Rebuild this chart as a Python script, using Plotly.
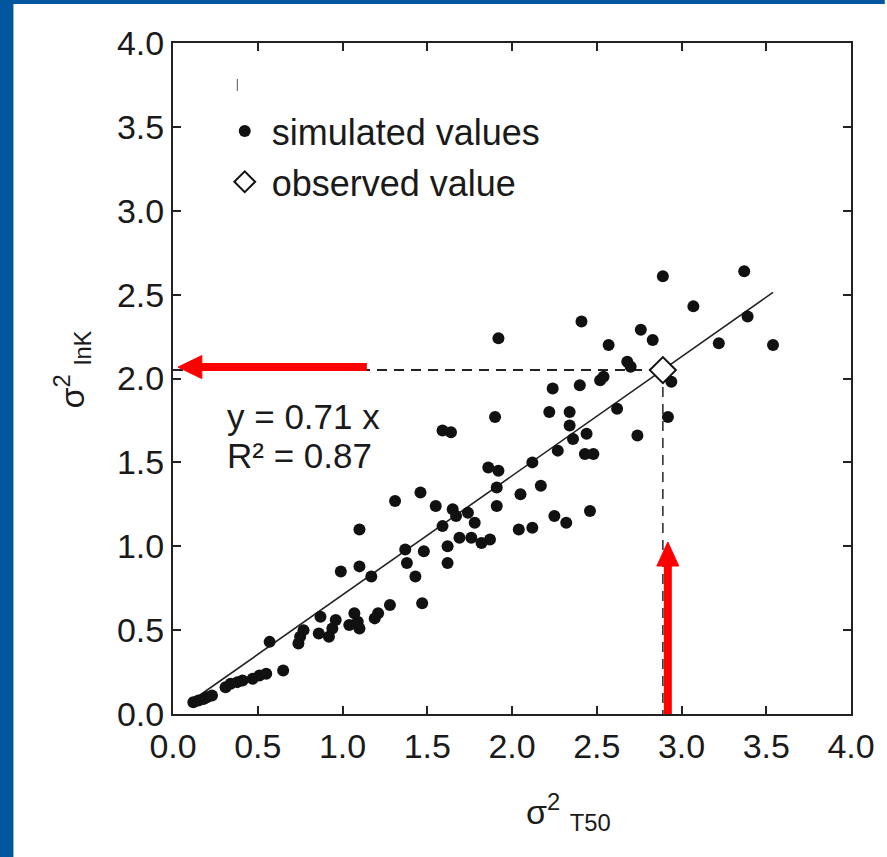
import plotly.graph_objects as go

# ---------------- data ----------------
sim_x = [0.12, 0.15, 0.18, 0.20, 0.23, 0.31, 0.34, 0.38, 0.41, 0.47, 0.51, 0.55, 0.65, 0.57,
         0.74, 0.75, 0.77, 0.87, 0.86, 0.92, 0.96, 0.94, 1.04, 1.07, 1.10, 1.09, 1.19, 1.21,
         1.28, 0.99, 1.10, 1.17, 1.47, 1.43, 1.38, 1.62, 1.48, 1.37, 1.10, 1.31, 1.62, 1.55,
         1.59, 1.65, 1.67, 1.74, 1.78, 1.69, 1.76, 1.82, 1.87, 1.91, 1.46, 1.59, 1.64, 1.90,
         1.86, 1.92, 1.91, 2.05, 2.04, 2.12, 2.17, 2.12, 2.27, 2.25, 2.32, 2.22, 2.34, 2.34,
         2.36, 2.41, 1.92, 2.76, 2.83, 2.57, 2.68, 2.70, 2.52, 2.54, 2.24, 2.40, 2.44, 2.62,
         2.74, 2.43, 2.48, 2.46, 2.89, 3.37, 3.07, 3.39, 3.22, 3.54, 2.94, 2.92]
sim_y = [0.07, 0.08, 0.09, 0.10, 0.11, 0.16, 0.18, 0.19, 0.20, 0.21, 0.23, 0.24, 0.26, 0.43,
         0.42, 0.46, 0.50, 0.58, 0.48, 0.46, 0.56, 0.51, 0.53, 0.60, 0.51, 0.55, 0.57, 0.60,
         0.65, 0.85, 0.88, 0.82, 0.66, 0.82, 0.90, 0.90, 0.97, 0.98, 1.10, 1.27, 1.00, 1.24,
         1.12, 1.22, 1.18, 1.20, 1.14, 1.05, 1.05, 1.02, 1.04, 1.24, 1.32, 1.69, 1.68, 1.77,
         1.47, 1.45, 1.35, 1.31, 1.10, 1.11, 1.36, 1.50, 1.57, 1.18, 1.14, 1.80, 1.80, 1.72,
         1.64, 2.34, 2.24, 2.29, 2.23, 2.20, 2.10, 2.07, 1.99, 2.01, 1.94, 1.96, 1.67, 1.82,
         1.66, 1.55, 1.55, 1.21, 2.61, 2.64, 2.43, 2.37, 2.21, 2.20, 1.98, 1.77]

obs_x = [2.89]
obs_y = [2.05]

slope = 0.71
r2 = 0.87
fit_x = [0.13, 3.54]
fit_y = [slope * v for v in fit_x]

tick_vals = [0.0, 0.5, 1.0, 1.5, 2.0, 2.5, 3.0, 3.5, 4.0]
tick_text = ["0.0", "0.5", "1.0", "1.5", "2.0", "2.5", "3.0", "3.5", "4.0"]

# ---------------- geometry ----------------
W, H = 887, 857
L, R, T, B = 173, 855, 43, 714
XMAX, YMAX = 4.0, 4.0
px_x = XMAX / (R - L)   # data units per pixel (x)
px_y = YMAX / (B - T)   # data units per pixel (y)


def pxp(px):
    return (px - L) / (R - L)


def pyp(py):
    return (B - py) / (B - T)


FONT = "Liberation Sans, Arial, Helvetica, sans-serif"
INK = "#1a1a1a"
BLUE = "#01569e"
RED = "#ff0000"

fig = go.Figure()

fig.add_trace(go.Scatter(
    x=fit_x, y=fit_y, mode="lines", showlegend=False,
    line=dict(color="#222222", width=1.6), hoverinfo="skip"))

fig.add_trace(go.Scatter(
    x=sim_x, y=sim_y, mode="markers", name="simulated values",
    legendgroup="a",
    marker=dict(symbol="circle", size=12, color="#111111")))

fig.add_trace(go.Scatter(
    x=obs_x, y=obs_y, mode="markers", name="observed value",
    legendgroup="b",
    marker=dict(symbol="diamond", size=20, color="white",
                line=dict(color="#111111", width=2))))

shapes = []
# dashed guide lines
dash = "10px,7px"
shapes.append(dict(type="line", xref="x", yref="y", x0=0, x1=obs_x[0], y0=obs_y[0], y1=obs_y[0],
                   line=dict(color="#222222", width=2, dash=dash), layer="below"))
shapes.append(dict(type="line", xref="x", yref="y", x0=obs_x[0], x1=obs_x[0], y0=obs_y[0], y1=0,
                   line=dict(color="#333333", width=1.6, dash=dash), layer="below"))

# red arrow: horizontal (pointing left to the y axis)
ha_y = obs_y[0] + 3 * px_y
ha_tip = 5 * px_x
ha_base = 29 * px_x
ha_tail = 195 * px_x
head_h = 11.5 * px_y
shapes.append(dict(type="line", xref="x", yref="y", x0=ha_base - 1 * px_x, x1=ha_tail, y0=ha_y, y1=ha_y,
                   line=dict(color=RED, width=8), layer="above"))
shapes.append(dict(type="path", xref="x", yref="y",
                   path=f"M {ha_tip},{ha_y} L {ha_base},{ha_y + head_h} L {ha_base},{ha_y - head_h} Z",
                   fillcolor=RED, line=dict(color=RED, width=1), layer="above"))

# red arrow: vertical (pointing up from the x axis)
va_x = obs_x[0] + 5 * px_x
va_tip = (B - 542) * px_y
va_base = (B - 566) * px_y
head_w = 11 * px_x
shapes.append(dict(type="line", xref="x", yref="y", x0=va_x, x1=va_x, y0=-3 * px_y, y1=va_base + 1 * px_y,
                   line=dict(color=RED, width=8), layer="above"))
shapes.append(dict(type="path", xref="x", yref="y",
                   path=f"M {va_x},{va_tip} L {va_x - head_w},{va_base} L {va_x + head_w},{va_base} Z",
                   fillcolor=RED, line=dict(color=RED, width=1), layer="above"))

# small stray tick above the legend
shapes.append(dict(type="line", xref="paper", yref="paper", x0=pxp(237.7), x1=pxp(237.7),
                   y0=pyp(79), y1=pyp(91), line=dict(color="#555555", width=1)))

# blue slide frame (left and top strips)
shapes.append(dict(type="rect", xref="paper", yref="paper", x0=pxp(-2), x1=pxp(12.5),
                   y0=pyp(H + 2), y1=pyp(-2), fillcolor=BLUE, line=dict(width=0), layer="above"))
shapes.append(dict(type="rect", xref="paper", yref="paper", x0=pxp(-2), x1=pxp(W + 2),
                   y0=pyp(4), y1=pyp(-2), fillcolor=BLUE, line=dict(width=0), layer="above"))

annotations = [
    dict(xref="paper", yref="paper", x=pxp(225), y=pyp(416), xanchor="left", yanchor="middle",
         text=f"y = {slope} x", showarrow=False, font=dict(family=FONT, size=35, color=INK)),
    dict(xref="paper", yref="paper", x=pxp(225), y=pyp(455), xanchor="left", yanchor="middle",
         text=f"R² = {r2}", showarrow=False, font=dict(family=FONT, size=35, color=INK)),
    dict(xref="paper", yref="paper", x=pxp(571), y=pyp(812), xanchor="center", yanchor="middle",
         text="σ<sup>2</sup> <sub>T50</sub>", showarrow=False, font=dict(family=FONT, size=34, color=INK)),
    dict(xref="paper", yref="paper", x=pxp(71), y=pyp(370), xanchor="center", yanchor="middle",
         text="σ<sup>2</sup> <sub>lnK</sub>", textangle=-90, showarrow=False,
         font=dict(family=FONT, size=34, color=INK)),
]

axis_common = dict(
    range=[0, 4], tickmode="array", tickvals=tick_vals, ticktext=tick_text,
    ticks="inside", ticklen=8, tickwidth=2, tickcolor="#222222",
    showline=True, linewidth=2, linecolor="#222222", mirror="ticks",
    showgrid=False, zeroline=False,
    tickfont=dict(family=FONT, size=34, color=INK),
)

fig.update_layout(
    width=W, height=H,
    margin=dict(l=L, r=W - R, t=T, b=H - B, pad=0),
    paper_bgcolor="white", plot_bgcolor="white",
    xaxis=dict(**axis_common, ticklabelstandoff=1),
    yaxis=dict(**axis_common, ticklabelstandoff=0),
    showlegend=True,
    legend=dict(x=pxp(218), y=pyp(101), xanchor="left", yanchor="top",
                bgcolor="rgba(0,0,0,0)", borderwidth=0,
                font=dict(family=FONT, size=36, color=INK),
                traceorder="grouped", tracegroupgap=1, itemwidth=44),
    shapes=shapes,
    annotations=annotations,
)

fig.write_html("out.html",
               config={"displayModeBar": False},
               post_script="document.body.style.margin='0';document.body.style.padding='0';")
